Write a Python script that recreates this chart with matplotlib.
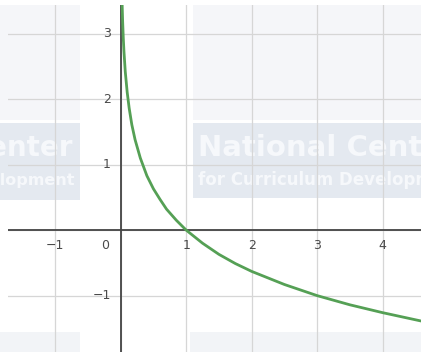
import matplotlib.pyplot as plt
from matplotlib.patches import Rectangle

# points (y = log base 1/3 of x)
curve_x = [0.02, 0.023, 0.03, 0.04, 0.05, 0.07, 0.1, 0.13, 0.17, 0.22, 0.3, 0.4, 0.5,
           0.6, 0.7, 0.85, 1.0, 1.25, 1.5, 1.75, 2.0, 2.5, 3.0, 3.5, 4.0, 4.6]
curve_y = [3.56, 3.43, 3.19, 2.93, 2.73, 2.42, 2.10, 1.86, 1.61, 1.38, 1.10, 0.83, 0.63,
           0.47, 0.32, 0.15, 0.0, -0.20, -0.37, -0.51, -0.63, -0.83, -1.0, -1.14, -1.26, -1.39]
x_ticks = [-1, 1, 2, 3, 4]
y_ticks = [-1, 1, 2, 3]

W, H = 421, 352
fig = plt.figure(figsize=(W / 100, H / 100), dpi=100)
ax = fig.add_axes([8 / W, 0, (W - 8) / W, (H - 5) / H])
ax.set_xlim(-1.72, 4.585)
ax.set_ylim(-1.86, 3.435)


def px(x, y):
    # pixel (top-left origin) -> figure fraction
    return x / W, 1 - y / H


# faint watermark boxes (drawn on the figure, behind the axes grid)
for (x0, y0, x1, y1, c) in [(0, 5, 80, 120, '#f5f6f9'), (193, 5, 421, 120, '#f5f6f9'),
                            (0, 123, 80, 200, '#e4e9f0'), (193, 123, 421, 198, '#e4e9f0'),
                            (0, 332, 80, 352, '#f2f4f7'), (190, 332, 421, 352, '#f2f4f7')]:
    fx, fy = px(x0, y1)
    r = Rectangle((fx, fy), (x1 - x0) / W, (y1 - y0) / H, transform=fig.transFigure,
                  facecolor=c, edgecolor='none', zorder=0.2, clip_on=False)
    ax.add_patch(r)
    if c == '#e4e9f0':
        if x0 == 0:
            t1 = ax.text(*px(72, 156), 'National Center', transform=fig.transFigure, ha='right',
                         va='baseline', fontsize=20, fontweight='bold', color='#f6f8fb', zorder=0.3)
            t2 = ax.text(*px(74, 185), 'for Curriculum Development', transform=fig.transFigure,
                         ha='right', va='baseline', fontsize=11.5, fontweight='bold', color='#f6f8fb',
                         zorder=0.3)
        else:
            t1 = ax.text(*px(198, 156), 'National Center', transform=fig.transFigure, ha='left',
                         va='baseline', fontsize=21, fontweight='bold', color='#f6f8fb', zorder=0.3)
            t2 = ax.text(*px(198, 185), 'for Curriculum Development', transform=fig.transFigure,
                         ha='left', va='baseline', fontsize=12, fontweight='bold', color='#f6f8fb',
                         zorder=0.3)
        t1.set_clip_path(r)
        t2.set_clip_path(r)

ax.set_xticks(range(-1, 5))
ax.set_yticks(range(-1, 4))
ax.grid(True, color='#d6d6d6', linewidth=0.9)
ax.set_axisbelow(True)
ax.tick_params(length=0, labelbottom=False, labelleft=False)
for s in ax.spines.values():
    s.set_visible(False)

ax.axhline(0, color='#444444', linewidth=1.3, zorder=1)
ax.axvline(0, color='#444444', linewidth=1.3, zorder=1)

# tick labels next to the axes lines
for v in x_ticks:
    ax.annotate(f'{v}'.replace('-', '\u2212'), (v, 0), xytext=(0, -11), textcoords='offset points',
                ha='center', va='center', fontsize=9, color='#4a4a4a')
for v in y_ticks:
    ax.annotate(f'{v}'.replace('-', '\u2212'), (0, v), xytext=(-7, 0), textcoords='offset points',
                ha='right', va='center', fontsize=9, color='#4a4a4a')
ax.annotate('0', (0, 0), xytext=(-11, -11), textcoords='offset points',
            ha='center', va='center', fontsize=9, color='#4a4a4a')

ax.plot(curve_x, curve_y, color='#55a055', linewidth=2.0, zorder=3, solid_capstyle='round')

fig.savefig('out.png', dpi=100)
